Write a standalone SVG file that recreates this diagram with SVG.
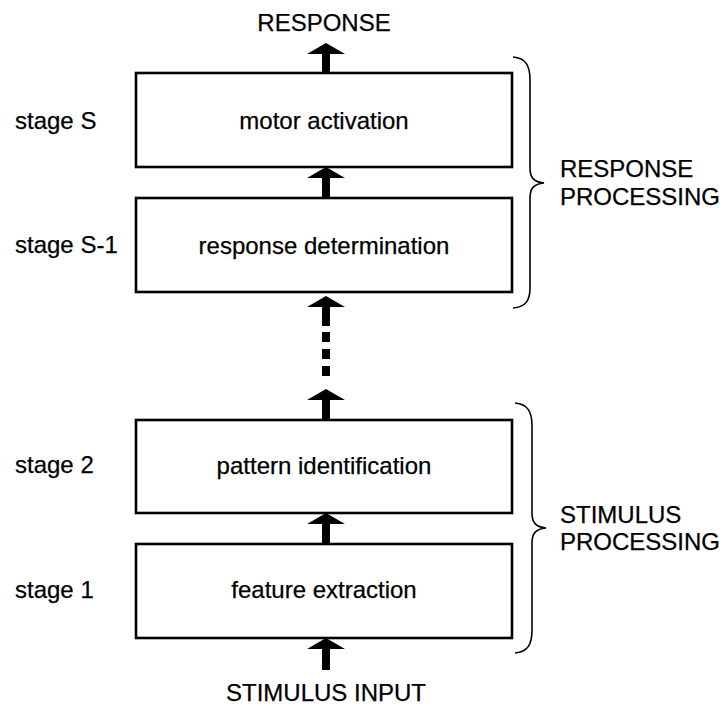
<svg xmlns="http://www.w3.org/2000/svg" width="723" height="706" viewBox="0 0 723 706">
<style>
text{font-family:"Liberation Sans",Arial,Helvetica,sans-serif;font-size:24px;fill:#000;stroke:#000;stroke-width:0.25}
.c{text-anchor:middle}
.box{fill:#fff;stroke:#000;stroke-width:2.6}
.brace{fill:none;stroke:#000;stroke-width:1.6}
.shaft{stroke:#000;stroke-width:8;fill:none}
.head{fill:#000}
</style>
<defs>
<path id="ah" class="head" d="M0,0 L19,11 L-19,11 Z"/>
</defs>
<rect width="723" height="706" fill="#fff"/>
<text class="c" x="324" y="31">RESPONSE</text>
<text class="c" x="326" y="701">STIMULUS INPUT</text>
<g id="n_motor">
<rect class="box" x="136" y="73" width="376" height="94"/>
<text class="c" x="324" y="129">motor activation</text>
<text x="15" y="129">stage S</text>
</g>
<g id="n_response">
<rect class="box" x="136" y="198" width="376" height="94"/>
<text class="c" x="324" y="254">response determination</text>
<text x="15" y="253">stage S-1</text>
</g>
<g id="n_pattern">
<rect class="box" x="136" y="420" width="376" height="93"/>
<text class="c" x="324" y="474">pattern identification</text>
<text x="15" y="473">stage 2</text>
</g>
<g id="n_feature">
<rect class="box" x="136" y="544" width="376" height="94"/>
<text class="c" x="324" y="598">feature extraction</text>
<text x="15" y="598">stage 1</text>
</g>
<g id="connectors">
<line class="shaft" x1="326" y1="53" x2="326" y2="73"/>
<use href="#ah" x="326" y="43"/>
<line class="shaft" x1="326" y1="177" x2="326" y2="198"/>
<use href="#ah" x="326" y="167"/>
<line class="shaft" x1="326" y1="306" x2="326" y2="326"/>
<line class="shaft" x1="326" y1="332" x2="326" y2="376" stroke-dasharray="10,7"/>
<use href="#ah" x="326" y="296"/>
<line class="shaft" x1="326" y1="399" x2="326" y2="420"/>
<use href="#ah" x="326" y="389"/>
<line class="shaft" x1="326" y1="523" x2="326" y2="544"/>
<use href="#ah" x="326" y="513"/>
<line class="shaft" x1="326" y1="648" x2="326" y2="670"/>
<use href="#ah" x="326" y="638"/>
</g>
<g id="brace_response">
<path class="brace" d="M513,57 C526,58 530,66 530,80 L530,168 C530,178 534,182 544,183 C534,184 530,188 530,198 L530,288 C530,300 526,307 513,308"/>
<text x="560" y="177">RESPONSE</text>
<text x="560" y="205">PROCESSING</text>
</g>
<g id="brace_stimulus">
<path class="brace" d="M515,403 C528,404 532,412 532,426 L532,513 C532,523 536,527 546,528 C536,529 532,533 532,543 L532,630 C532,644 528,652 515,653"/>
<text x="560" y="523">STIMULUS</text>
<text x="560" y="550">PROCESSING</text>
</g>
</svg>
